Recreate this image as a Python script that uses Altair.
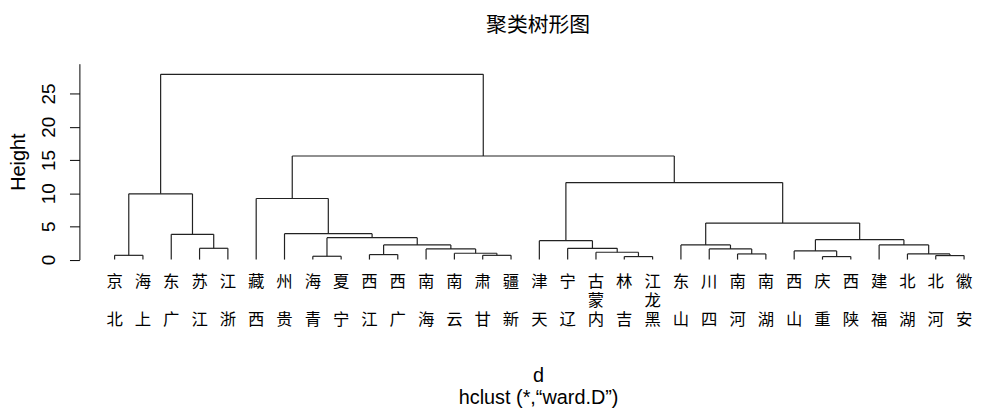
import altair as alt
import pandas as pd

# leaf labels in dendrogram order (left to right)
labels = ["北　京", "上　海", "广　东", "江　苏", "浙　江", "西　藏", "贵　州", "青　海",
          "宁　夏", "江　西", "广　西", "海　南", "云　南", "甘　肃", "新　疆", "天　津",
          "辽　宁", "内蒙古", "吉　林", "黑龙江", "山　东", "四　川", "河　南", "湖　南",
          "山　西", "重　庆", "陕　西", "福　建", "湖　北", "河　北", "安　徽"]

# hclust-style merge table: negative = leaf (position in order), positive = earlier merge step
merge_left = [-19, -26, -8, -30, -1, -14, -10, -23, -29, -13, -18, -25, -12, -22, -4,
              -17, 7, -21, -28, -16, 12, 3, -3, -7, 18, -6, 5, 20, 26, 27]
merge_right = [-20, -27, -9, -31, -2, -15, -11, -24, 4, 6, 1, 2, 10, 8, -5,
               11, 13, 14, 9, 16, 19, 17, 15, 22, 21, 24, 23, 25, 28, 29]
merge_height = [0.45, 0.45, 0.50, 0.60, 0.64, 0.64, 0.75, 0.85, 0.85, 0.95, 1.10, 1.30,
                1.60, 1.60, 1.70, 1.70, 2.20, 2.20, 2.20, 2.85, 3.00, 3.30, 3.80, 3.90,
                5.50, 9.20, 9.90, 11.60, 15.60, 27.90]

y_ticks = [0, 5, 10, 15, 20, 25]

# build segments from the tree
pos = {}


def node(ref):
    if ref < 0:
        return float(-ref), 0.0
    return pos[ref]


segs = []
for k, (a, b, h) in enumerate(zip(merge_left, merge_right, merge_height), start=1):
    xa, ha = node(a)
    xb, hb = node(b)
    segs.append(dict(x=xa, x2=xa, y=ha, y2=h))
    segs.append(dict(x=xb, x2=xb, y=hb, y2=h))
    segs.append(dict(x=xa, x2=xb, y=h, y2=h))
    pos[k] = ((xa + xb) / 2.0, h)

seg_df = pd.DataFrame(segs)
leaf_df = pd.DataFrame({
    "x": [float(i + 1) for i in range(len(labels))],
    "c_top": [s[2] for s in labels],
    "c_mid": [s[1] for s in labels],
    "c_bot": [s[0] for s in labels],
})

W, H = 895, 197.5
xscale = alt.Scale(domain=[-0.2434, 31.105], nice=False, zero=False)
yscale = alt.Scale(domain=[0, 29.5], nice=False, zero=False)

tree = alt.Chart(seg_df).mark_rule(color="#222222", strokeWidth=1.2).encode(
    x=alt.X("x:Q", scale=xscale,
            axis=alt.Axis(title=["d", "hclust (*,“ward.D”)"], labels=False, ticks=False,
                          domain=False, grid=False, titlePadding=107,
                          titleFont="Liberation Sans", titleFontSize=20,
                          titleFontWeight="normal", titleColor="#000000",
                          titleLineHeight=22, titleX=W / 2 + 15)),
    x2="x2:Q",
    y=alt.Y("y:Q", scale=yscale,
            axis=alt.Axis(values=y_ticks, title="Height", grid=False,
                          labelAngle=270, labelAlign="center", labelBaseline="middle",
                          labelPadding=21, labelFont="Liberation Sans", labelFontSize=19,
                          labelColor="#000000", tickSize=10, tickColor="#000000",
                          domainColor="#000000", tickWidth=1, domainWidth=1,
                          titleFont="Liberation Sans", titleFontSize=20,
                          titleFontWeight="normal", titleColor="#000000",
                          titleAngle=270, titleX=-61, titleY=H / 2,
                          titleAlign="center", titleBaseline="middle")),
    y2="y2:Q",
)


def leaf_layer(field, ypix):
    return alt.Chart(leaf_df).mark_text(
        baseline="middle", align="center",
        font="Noto Sans CJK SC", fontSize=16.5, color="#000000",
    ).encode(
        x=alt.X("x:Q", scale=xscale),
        y=alt.value(ypix),
        text=f"{field}:N",
    )


chart = alt.layer(
    tree,
    leaf_layer("c_top", H + 23),
    leaf_layer("c_mid", H + 42),
    leaf_layer("c_bot", H + 61),
).properties(
    width=W, height=H,
    background="white",
    title=alt.TitleParams("聚类树形图", font="Noto Sans CJK SC", fontSize=21,
                          fontWeight="normal", color="#000000", anchor="middle",
                          dx=15, offset=28),
    padding={"left": 72, "top": 54.5, "right": 6, "bottom": 149},
    autosize=alt.AutoSizeParams(type="none"),
).configure_view(stroke=None)

chart.save("out.html", embed_options={"renderer": "svg", "actions": False})
